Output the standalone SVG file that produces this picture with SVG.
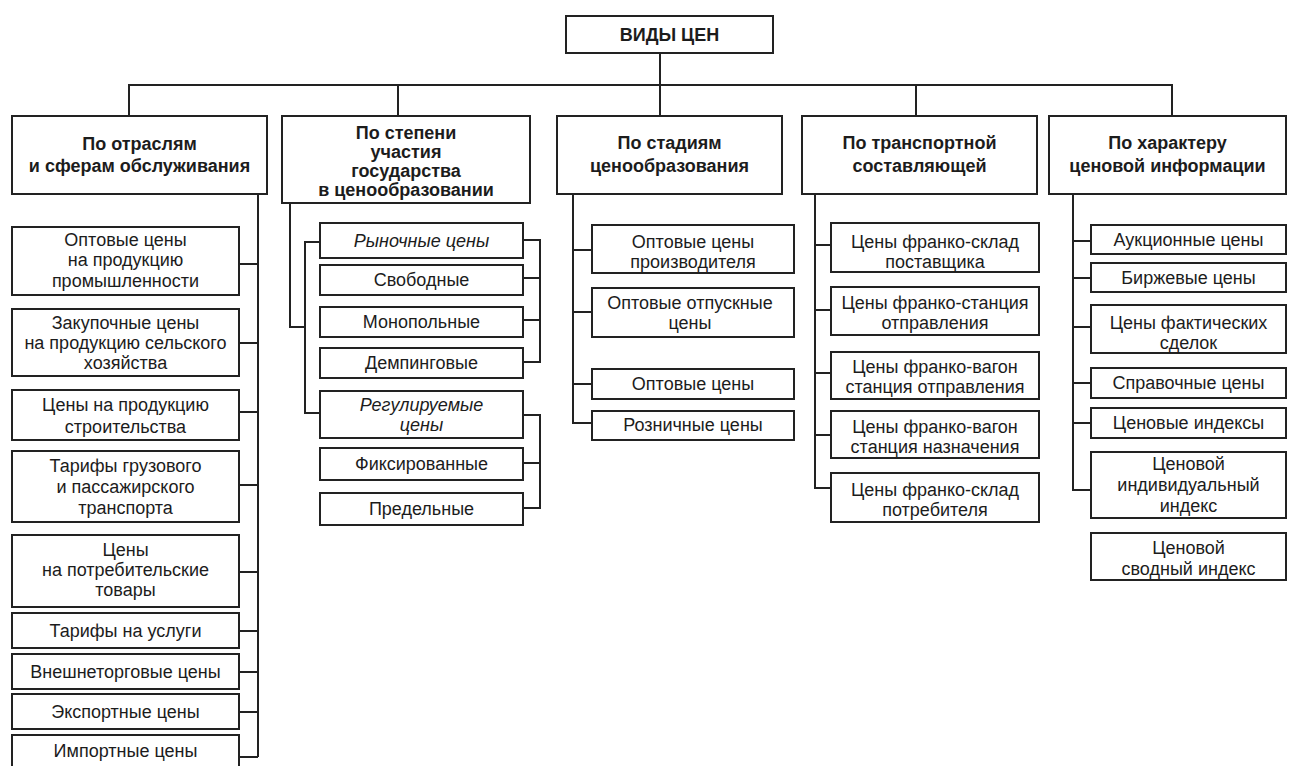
<svg xmlns="http://www.w3.org/2000/svg" width="1290" height="766" viewBox="0 0 1290 766">
<style>
.bx rect{fill:#fff;stroke:#222;stroke-width:2}
text{font-family:"Liberation Sans",Arial,sans-serif;fill:#1c1c1c;text-anchor:middle;dominant-baseline:central;font-size:18px}
.h text{font-weight:bold;font-size:18px}
.i text{font-style:italic}
#connectors path{fill:none;stroke:#222;stroke-width:2}
</style>
<rect width="1290" height="766" fill="#fff"/>
<g id="connectors">
<path d="M660 53V116M129 116V85H1172V116M398 85V116M916 85V116"/>
<path d="M258 194V757M239 264H258M239 343H258M239 412H258M239 485H258M239 572H258M239 631H258M239 672H258M239 712H258M239 757H258"/>
<path d="M290 203V327H305M320 242H305V413H320"/>
<path d="M523 240H540V362H523M523 278H540M523 320H540"/>
<path d="M523 415H540V508H523M523 463H540"/>
<path d="M573 194V423H592M573 250H592M573 312H592M573 384H592"/>
<path d="M815 194V488H831M815 245H831M815 310H831M815 373H831M815 435H831"/>
<path d="M1073 194V490H1091M1073 241H1091M1073 278H1091M1073 327H1091M1073 383H1091M1073 423H1091"/>
</g>
<g id="root" class="bx h"><rect x="566" y="16" width="207" height="37"/><text x="669.5" y="35">ВИДЫ ЦЕН</text></g>
<g id="h1" class="bx h"><rect x="12" y="116" width="255" height="78"/><text x="139.5" y="144">По отраслям</text><text x="139.5" y="166">и сферам обслуживания</text></g>
<g id="h2" class="bx h"><rect x="282" y="116" width="248" height="87"/><text x="406" y="133">По степени</text><text x="406" y="152">участия</text><text x="406" y="171">государства</text><text x="406" y="190">в ценообразовании</text></g>
<g id="h3" class="bx h"><rect x="557" y="116" width="225" height="78"/><text x="669.5" y="143">По стадиям</text><text x="669.5" y="166">ценообразования</text></g>
<g id="h4" class="bx h"><rect x="802" y="116" width="235" height="78"/><text x="919.5" y="143">По транспортной</text><text x="919.5" y="166">составляющей</text></g>
<g id="h5" class="bx h"><rect x="1049" y="116" width="237" height="78"/><text x="1167.5" y="143">По характеру</text><text x="1167.5" y="166">ценовой информации</text></g>

<g id="c1-1" class="bx"><rect x="12" y="227" width="227" height="68"/><text x="125.5" y="240">Оптовые цены</text><text x="125.5" y="260">на продукцию</text><text x="125.5" y="281">промышленности</text></g>
<g id="c1-2" class="bx"><rect x="12" y="309" width="227" height="67"/><text x="125.5" y="323">Закупочные цены</text><text x="125.5" y="343">на продукцию сельского</text><text x="125.5" y="363">хозяйства</text></g>
<g id="c1-3" class="bx"><rect x="12" y="390" width="227" height="50"/><text x="125.5" y="405">Цены на продукцию</text><text x="125.5" y="427">строительства</text></g>
<g id="c1-4" class="bx"><rect x="12" y="451" width="227" height="71"/><text x="125.5" y="466">Тарифы грузового</text><text x="125.5" y="487">и пассажирского</text><text x="125.5" y="508">транспорта</text></g>
<g id="c1-5" class="bx"><rect x="12" y="535" width="227" height="72"/><text x="125.5" y="550">Цены</text><text x="125.5" y="570">на потребительские</text><text x="125.5" y="590">товары</text></g>
<g id="c1-6" class="bx"><rect x="12" y="613" width="227" height="35"/><text x="125.5" y="631">Тарифы на услуги</text></g>
<g id="c1-7" class="bx"><rect x="12" y="654" width="227" height="35"/><text x="125.5" y="672">Внешнеторговые цены</text></g>
<g id="c1-8" class="bx"><rect x="12" y="694" width="227" height="35"/><text x="125.5" y="712">Экспортные цены</text></g>
<g id="c1-9" class="bx"><rect x="12" y="735" width="227" height="40"/><text x="125.5" y="751">Импортные цены</text></g>

<g id="c2-1" class="bx i"><rect x="320" y="223" width="203" height="35"/><text x="421.5" y="241">Рыночные цены</text></g>
<g id="c2-2" class="bx"><rect x="320" y="265" width="203" height="30"/><text x="421.5" y="280">Свободные</text></g>
<g id="c2-3" class="bx"><rect x="320" y="307" width="203" height="30"/><text x="421.5" y="322">Монопольные</text></g>
<g id="c2-4" class="bx"><rect x="320" y="348" width="203" height="30"/><text x="421.5" y="363">Демпинговые</text></g>
<g id="c2-5" class="bx i"><rect x="320" y="391" width="203" height="47"/><text x="421.5" y="405">Регулируемые</text><text x="421.5" y="425">цены</text></g>
<g id="c2-6" class="bx"><rect x="320" y="448" width="203" height="32"/><text x="421.5" y="464">Фиксированные</text></g>
<g id="c2-7" class="bx"><rect x="320" y="493" width="203" height="32"/><text x="421.5" y="509">Предельные</text></g>

<g id="c3-1" class="bx"><rect x="592" y="225" width="202" height="48"/><text x="693" y="242">Оптовые цены</text><text x="693" y="262">производителя</text></g>
<g id="c3-2" class="bx"><rect x="592" y="288" width="202" height="49"/><text x="690" y="303">Оптовые отпускные</text><text x="690" y="323">цены</text></g>
<g id="c3-3" class="bx"><rect x="592" y="369" width="202" height="30"/><text x="693" y="384">Оптовые цены</text></g>
<g id="c3-4" class="bx"><rect x="592" y="411" width="202" height="29"/><text x="693" y="425">Розничные цены</text></g>

<g id="c4-1" class="bx"><rect x="831" y="223" width="208" height="49"/><text x="935" y="242">Цены франко-склад</text><text x="935" y="262">поставщика</text></g>
<g id="c4-2" class="bx"><rect x="831" y="287" width="208" height="48"/><text x="935" y="303">Цены франко-станция</text><text x="935" y="323">отправления</text></g>
<g id="c4-3" class="bx"><rect x="831" y="352" width="208" height="47"/><text x="935" y="367">Цены франко-вагон</text><text x="935" y="387">станция отправления</text></g>
<g id="c4-4" class="bx"><rect x="831" y="411" width="208" height="47"/><text x="935" y="427">Цены франко-вагон</text><text x="935" y="447">станция назначения</text></g>
<g id="c4-5" class="bx"><rect x="831" y="473" width="208" height="49"/><text x="935" y="490">Цены франко-склад</text><text x="935" y="510">потребителя</text></g>

<g id="c5-1" class="bx"><rect x="1091" y="225" width="195" height="29"/><text x="1188.5" y="240">Аукционные цены</text></g>
<g id="c5-2" class="bx"><rect x="1091" y="263" width="195" height="29"/><text x="1188.5" y="278">Биржевые цены</text></g>
<g id="c5-3" class="bx"><rect x="1091" y="305" width="195" height="48"/><text x="1188.5" y="323">Цены фактических</text><text x="1188.5" y="343">сделок</text></g>
<g id="c5-4" class="bx"><rect x="1091" y="368" width="195" height="30"/><text x="1188.5" y="383">Справочные цены</text></g>
<g id="c5-5" class="bx"><rect x="1091" y="408" width="195" height="30"/><text x="1188.5" y="423">Ценовые индексы</text></g>
<g id="c5-6" class="bx"><rect x="1091" y="452" width="195" height="66"/><text x="1188.5" y="464">Ценовой</text><text x="1188.5" y="485">индивидуальный</text><text x="1188.5" y="506">индекс</text></g>
<g id="c5-7" class="bx"><rect x="1091" y="533" width="195" height="47"/><text x="1188.5" y="548">Ценовой</text><text x="1188.5" y="569">сводный индекс</text></g>
</svg>
